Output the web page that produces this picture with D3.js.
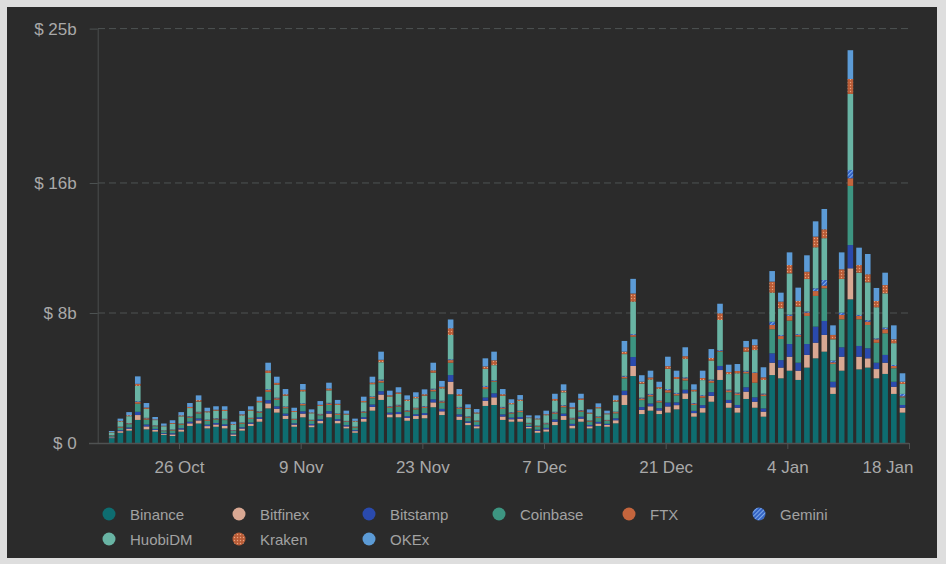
<!DOCTYPE html>
<html>
<head>
<meta charset="utf-8">
<script src="https://cdn.jsdelivr.net/npm/d3@7"></script>
<style>
  body { margin: 0; background: #dedede; }
  svg { display: block; font-family: "Liberation Sans", Arial, sans-serif; }
</style>
</head>
<body>
<svg id="chart" width="946" height="564"></svg>
<script>
// one bar per day, 18 Oct 2020 .. 17 Jan 2021
const startDay = new Date(2020, 9, 18);
const endDay = new Date(2021, 0, 18);
const days = d3.timeDay.range(startDay, endDay);

const exchanges = ["Binance", "Bitfinex", "Bitstamp", "Coinbase", "FTX", "Gemini", "HuobiDM", "Kraken", "OKEx"];

// daily volume in $ billions
const binance = [0.3,0.63,0.76,1.42,0.84,0.7,0.5,0.43,0.7,1.05, 1.2,0.9,1.0,0.9,0.43,0.76,1.05,1.31,2.13,1.87,
  1.48,1.0,1.58,0.97,1.21,1.58,1.21,0.9,0.63,1.31, 1.99,2.65,1.58,1.58,1.37,1.48,1.52,2.2,1.72,3.0,
  1.42,1.1,0.9,2.28,2.34,1.42,1.31,1.31,0.9,0.63, 0.7,1.1,1.42,0.9,1.31,0.9,1.05,1.0,1.21,2.34,
  4.12,1.78,1.99,1.78,1.87,2.07,2.71,1.62,1.87,2.54, 3.88,2.17,1.87,2.71,2.17,1.62,4.18,3.98,4.45,3.88,
  4.64,5.21,5.62,3.02,4.45,8.84,4.53,4.64,3.98,4.25, 3.02,1.87];
const bitfinex = [.05,.1,.12,.3,.18,.1,.06,.1,.13,.16, .19,.14,.14,.15,.1,.13,.13,.17,.31,.24,
  .2,.13,.23,.12,.15,.23,.16,.12,.1,.17, .23,.33,.18,.2,.17,.18,.2,.3,.23,.77,
  .21,.14,.13,.32,.47,.21,.15,.18,.09,.12, .14,.21,.24,.17,.19,.13,.15,.11,.19,.61,
  .62,.26,.27,.22,.38,.26,.35,.22,.28,.36, .61,.29,.3,.45,.37,.31,.76,.66,.86,.57,
  .78,.96,1.03,.41,.86,1.91,.78,.57,.57,.69, .44,.3];
const bitstamp = [.03,.06,.08,.2,.12,.07,.05,.07,.08,.1, .12,.09,.09,.1,.06,.08,.08,.11,.2,.15,
  .13,.08,.14,.08,.1,.15,.1,.08,.06,.11, .15,.21,.11,.13,.11,.11,.12,.19,.15,.41,
  .13,.09,.08,.2,.25,.13,.1,.11,.06,.07, .09,.14,.15,.11,.12,.08,.1,.07,.12,.27,
  .55,.17,.17,.14,.24,.17,.22,.14,.18,.23, .25,.19,.17,.27,.27,.2,.58,.46,.78,.49,
  .67,.99,.86,.34,.58,1.43,.66,.62,.39,.48, .31,.17];
const coinbase = [.08,.16,.2,.5,.3,.16,.12,.17,.22,.25, .31,.23,.22,.26,.16,.22,.22,.28,.51,.4,
  .33,.21,.37,.2,.25,.38,.26,.2,.16,.28, .38,.53,.3,.33,.28,.3,.32,.49,.38,.76,
  .34,.23,.21,.53,.71,.34,.25,.3,.14,.19, .23,.35,.39,.28,.31,.21,.25,.18,.31,.76,
  1.25,.43,.44,.36,.62,.43,.57,.36,.46,.58, .88,.48,.61,.86,.9,.76,1.48,1.3,1.44,1.61,
  1.73,1.89,2.01,1.09,1.72,3.64,1.64,1.43,1.23,1.33, .83,.47];
const ftx = [.02,.04,.05,.1,.08,.04,.03,.04,.05,.06, .07,.05,.05,.05,.03,.05,.05,.06,.11,.09,
  .07,.05,.08,.04,.05,.09,.06,.04,.04,.06, .08,.12,.07,.07,.06,.07,.07,.11,.08,.16,
  .08,.05,.05,.12,.05,.08,.06,.07,.03,.04, .05,.08,.09,.06,.07,.05,.06,.04,.07,.1,
  .1,.1,.1,.08,.14,.1,.13,.08,.1,.13, .05,.11,.1,.1,.6,.1,.26,.18,.29,.1,
  .2,.3,.16,.1,.27,.47,.21,.2,.21,.25, .14,.06];
const gemini = [.01,.02,.02,.05,.03,.02,.02,.02,.02,.03, .03,.03,.03,.03,.02,.02,.02,.03,.05,.04,
  .04,.02,.04,.02,.03,.04,.03,.02,.02,.03, .04,.06,.03,.04,.03,.03,.04,.05,.04,.05,
  .04,.03,.02,.06,.04,.04,.03,.03,.02,.02, .03,.04,.04,.03,.03,.02,.03,.02,.03,.05,
  .06,.05,.05,.04,.07,.05,.06,.04,.05,.06, .05,.05,.05,.05,.04,.05,.2,.06,.08,.05,
  .07,.17,.35,.11,.14,.51,.06,.1,.06,.1, .06,.15];
const huobidm = [.16,.31,.42,.95,.55,.32,.25,.35,.44,.5, .63,.45,.46,.48,.32,.44,.44,.55,1.0,.8,
  .66,.42,.74,.4,.49,.77,.52,.39,.31,.55, .75,1.07,.59,.67,.57,.59,.64,.99,.76,1.5,
  .68,.46,.43,1.05,.93,.68,.49,.59,.29,.39, .47,.69,.79,.57,.62,.42,.5,.35,.62,1.34,
  2.0,.86,.89,.72,1.24,.86,1.14,.72,.93,1.17, 1.85,.95,1.19,1.18,1.37,.84,1.79,1.65,2.54,1.69,
  2.0,2.52,2.57,1.31,2.07,4.68,2.6,2.33,1.91,2.11, 1.34,.61];
const kraken = [.02,.04,.06,.12,.08,.04,.03,.05,.06,.07, .09,.06,.06,.07,.04,.06,.06,.08,.15,.11,
  .09,.06,.1,.05,.07,.11,.07,.05,.04,.08, .1,.15,.08,.09,.08,.08,.09,.14,.1,.41,
  .1,.06,.06,.15,.3,.1,.07,.08,.04,.05, .06,.1,.11,.08,.09,.06,.07,.05,.09,.15,
  .5,.12,.12,.1,.17,.12,.16,.1,.13,.16, .41,.13,.14,.27,.3,.16,.68,.41,.51,.35,
  .45,.66,.55,.27,.6,.92,.47,.49,.39,.51, .24,.14];
const okex = [.07,.14,.19,.46,.28,.15,.14,.17,.2,.24, .29,.22,.21,.22,.15,.21,.21,.26,.48,.38,
  .32,.2,.35,.19,.23,.36,.24,.19,.14,.26, .36,.5,.28,.32,.26,.28,.3,.47,.36,.54,
  .32,.22,.21,.5,.53,.32,.23,.28,.13,.19, .22,.32,.38,.28,.29,.2,.23,.17,.29,.66,
  .9,.4,.42,.33,.58,.39,.55,.33,.45,.55, .59,.45,.43,.39,.36,.62,.65,.55,.78,.82,
  1.01,.94,1.25,.59,1.04,1.77,1.07,1.25,.8,.76, .86,.52];

const xTickDates = [new Date(2020,9,26), new Date(2020,10,9), new Date(2020,10,23),
  new Date(2020,11,7), new Date(2020,11,21), new Date(2021,0,4), new Date(2021,0,18)];
const yTickValues = [0, 8, 16, 25.5];
const yTickLabels = ["$ 0", "$ 8b", "$ 16b", "$ 25b"];

const seriesValues = [binance, bitfinex, bitstamp, coinbase, ftx, gemini, huobidm, kraken, okex];
const fills = {
  "Binance": "#0e6d70", "Bitfinex": "#d9a893", "Bitstamp": "#2a4aad", "Coinbase": "#3d9581",
  "FTX": "#c4653d", "Gemini": "url(#gemini-pat)", "HuobiDM": "#69b4a4",
  "Kraken": "url(#kraken-pat)", "OKEx": "#5c9bd6"
};

const rows = days.map(function(d, i) {
  let row = { date: d };
  exchanges.forEach(function(k, j) { row[k] = seriesValues[j][i]; });
  return row;
});

const svg = d3.select("#chart");
const defs = svg.append("defs");

let gem = defs.append("pattern")
  .attr("id", "gemini-pat").attr("patternUnits", "userSpaceOnUse")
  .attr("width", 3).attr("height", 3).attr("patternTransform", "rotate(45)");
gem.append("rect").attr("width", 3).attr("height", 3).attr("fill", "#2c5cc0");
gem.append("rect").attr("width", 1.2).attr("height", 3).attr("fill", "#7eaaea");

let kr = defs.append("pattern")
  .attr("id", "kraken-pat").attr("patternUnits", "userSpaceOnUse")
  .attr("width", 3).attr("height", 3);
kr.append("rect").attr("width", 3).attr("height", 3).attr("fill", "#b95c37");
kr.append("circle").attr("cx", 1.5).attr("cy", 1.5).attr("r", 0.7).attr("fill", "#e9a27f");

// dark panel
svg.append("rect")
  .attr("x", 7).attr("y", 7).attr("width", 930).attr("height", 551)
  .attr("fill", "#2b2b2b");

const x = d3.scaleTime().domain([startDay, endDay]).range([109.5, 909]);
const y = d3.scaleLinear().domain([0, 25.5]).range([443, 28.6]);
const barW = 5.6;

// gridlines
svg.append("g").selectAll("line")
  .data(yTickValues.slice(1))
  .enter().append("line")
    .attr("x1", 98).attr("x2", 909)
    .attr("y1", function(d) { return y(d); })
    .attr("y2", function(d) { return y(d); })
    .style("stroke", "#4e5353")
    .style("stroke-dasharray", "7,4");

// y axis
let yAxis = svg.append("g")
  .attr("transform", "translate(97.7,0)")
  .call(d3.axisLeft(y).tickValues(yTickValues).tickSize(8).tickSizeOuter(0).tickPadding(13)
    .tickFormat(function(d, i) { return yTickLabels[i]; }));
yAxis.select(".domain").style("stroke", "#4a4d4d");
yAxis.selectAll(".tick line").style("stroke", "#4e5353");
yAxis.selectAll("text").style("fill", "#a9a9a9").style("font-size", "17px");

// bars
const stacked = d3.stack().keys(exchanges)(rows);
svg.append("g").selectAll("g")
  .data(stacked)
  .enter().append("g")
    .attr("fill", function(s) { return fills[s.key]; })
  .selectAll("rect")
  .data(function(s) { return s; })
  .enter().append("rect")
    .attr("x", function(d) { return x(d.data.date) + 2.2 - barW / 2; })
    .attr("width", barW)
    .attr("y", function(d) { return y(d[1]); })
    .attr("height", function(d) { return Math.max(0, y(d[0]) - y(d[1])); });

// x axis
svg.append("line")
  .attr("x1", 89).attr("x2", 909).attr("y1", 443.5).attr("y2", 443.5)
  .style("stroke", "#4f5252").style("stroke-width", 1.5);
let xAxis = svg.append("g")
  .attr("transform", "translate(0,443)")
  .call(d3.axisBottom(x).tickValues(xTickDates).tickSize(6).tickSizeOuter(0).tickPadding(12)
    .tickFormat(d3.timeFormat("%-d %b")));
xAxis.select(".domain").remove();
xAxis.selectAll(".tick line").style("stroke", "#4f5252");
xAxis.selectAll("text").style("fill", "#a9a9a9").style("font-size", "17px");
xAxis.selectAll(".tick:last-of-type text").attr("text-anchor", "end").attr("dx", 4);

// legend
let legend = svg.append("g").selectAll("g")
  .data(exchanges)
  .enter().append("g")
    .attr("transform", function(d, i) {
      let col = i % 6, row = Math.floor(i / 6);
      return "translate(" + (109 + col * 130) + "," + (514 + row * 25) + ")";
    });
legend.append("circle")
  .attr("r", 6.5)
  .attr("fill", function(d) { return fills[d]; });
legend.append("text")
  .attr("x", 21).attr("y", 5.5)
  .style("fill", "#a2a2a2").style("font-size", "15px")
  .text(function(d) { return d; });
</script>
</body>
</html>
